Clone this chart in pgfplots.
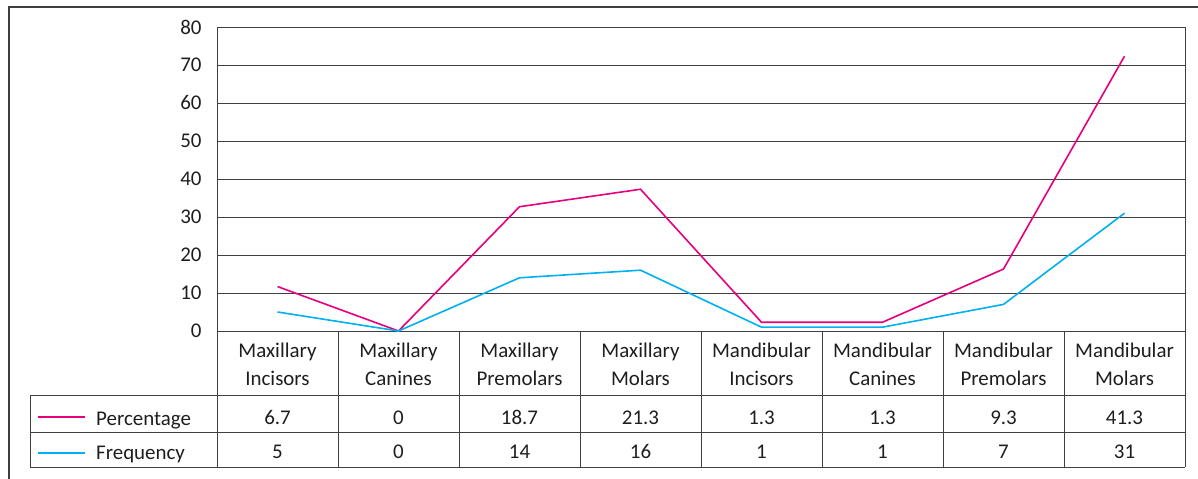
\documentclass[border=0pt]{standalone}
\usepackage{fontspec}
\setmainfont{Carlito}
\usepackage{pgfplots}
\pgfplotsset{compat=1.18}
\definecolor{pk}{RGB}{230,0,126}
\definecolor{cy}{RGB}{0,176,240}
\definecolor{ln}{RGB}{64,64,64}
\definecolor{tx}{RGB}{30,30,30}
\begin{document}
\begin{tikzpicture}[x=1bp,y=1bp]
\path[use as bounding box] (0,0) rectangle (1198,479);
\begin{axis}[
  at={(217bp,148bp)}, anchor=south west,
  width=968bp, height=304bp, scale only axis,
  xmin=-0.5, xmax=7.5, ymin=0, ymax=80,
  ytick={0,10,...,80}, xtick=\empty,
  ymajorgrids, grid style={ln, line width=0.9bp},
  axis line style={ln, line width=0.9bp},
  major tick length=0pt,
  tick label style={font=\fontsize{21}{23}\selectfont, text=tx},
  yticklabel style={xshift=-12bp},
  /pgf/number format/assume math mode=true,
  stack plots=y,
  clip=false,
]
\addplot[cy, line width=1.6bp, mark=none] coordinates {(0,5)(1,0)(2,14)(3,16)(4,1)(5,1)(6,7)(7,31)};
\addplot[pk, line width=1.6bp, mark=none] coordinates {(0,6.7)(1,0)(2,18.7)(3,21.3)(4,1.3)(5,1.3)(6,9.3)(7,41.3)};
\end{axis}
% outer frame
\draw[ln, line width=2bp] (8.5,0) -- (8.5,472) -- (1198,472);
% table lines
\begin{scope}[ln, line width=0.9bp]
\foreach \k in {0,...,8} { \draw (217+121*\k,148) -- (217+121*\k,12); }
\draw (30,84) -- (1185,84);
\draw (30,47) -- (1185,47);
\draw (30,12) -- (1185,12);
\draw (30,84) -- (30,12);
\end{scope}
\draw[pk, line width=1.6bp] (38,62) -- (85,62);
\draw[cy, line width=1.6bp] (38,26) -- (85,26);
\begin{scope}[every node/.style={font=\fontsize{21}{23}\selectfont, text=tx, inner sep=0pt}]
\node[anchor=base west] at (96,53) {Percentage};
\node[anchor=base west] at (96,19) {Frequency};
\foreach \k/\a/\b/\p/\f in {0/Maxillary/Incisors/6.7/5, 1/Maxillary/Canines/0/0, 2/Maxillary/Premolars/18.7/14, 3/Maxillary/Molars/21.3/16, 4/Mandibular/Incisors/1.3/1, 5/Mandibular/Canines/1.3/1, 6/Mandibular/Premolars/9.3/7, 7/Mandibular/Molars/41.3/31} {
  \node[anchor=base] at (277.5+121*\k,121) {\a};
  \node[anchor=base] at (277.5+121*\k,93) {\b};
  \node[anchor=base] at (277.5+121*\k,54) {\p};
  \node[anchor=base] at (277.5+121*\k,20) {\f};
}
\end{scope}
\end{tikzpicture}
\end{document}
